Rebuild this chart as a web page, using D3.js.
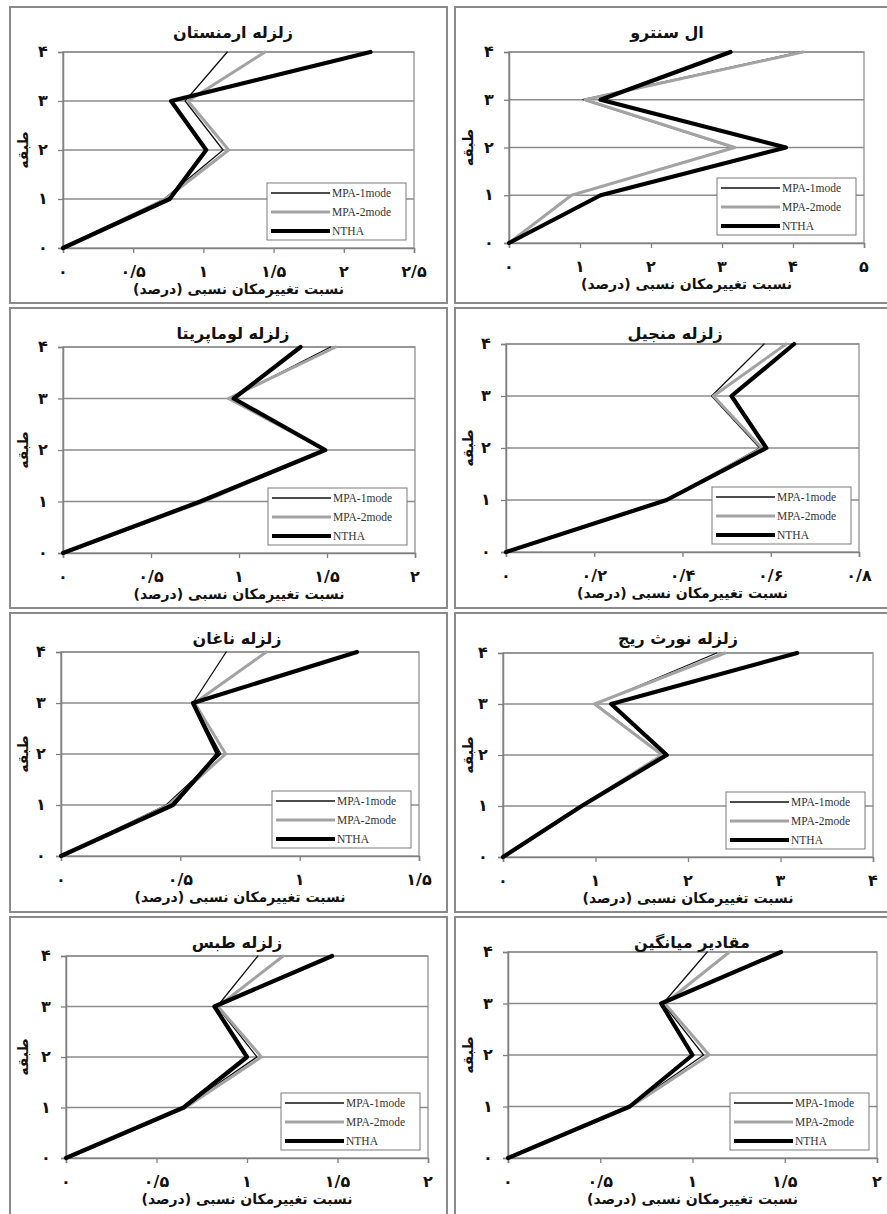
<!DOCTYPE html>
<html>
<head>
<meta charset="utf-8">
<script src="https://cdn.jsdelivr.net/npm/d3@7"></script>
<style>
  body { margin: 0; background: #fff; }
  svg text { font-family: "DejaVu Sans", sans-serif; }
  svg text.legend-label { font-family: "Liberation Serif", "DejaVu Serif", serif; }
</style>
</head>
<body>
<div id="chart"></div>
<script>
// chart data
const titles = ["زلزله ارمنستان", "ال سنترو", "زلزله لوماپریتا", "زلزله منجیل",
                "زلزله ناغان", "زلزله نورث ریج", "زلزله طبس", "مقادیر میانگین"];
const floors = [0, 1, 2, 3, 4];
const xMax = [2.5, 5, 2, 0.8, 1.5, 4, 2, 2];
const xStep = [0.5, 1, 0.5, 0.2, 0.5, 1, 0.5, 0.5];
const seriesNames = ["MPA-1mode", "MPA-2mode", "NTHA"];

const mpa1 = [
    [0, 0.72, 1.14, 0.87, 1.17],
    [0, 0.88, 3.15, 1.04, 4.10],
    [0, 0.78, 1.49, 0.95, 1.52],
    [0, 0.364, 0.575, 0.466, 0.585],
    [0, 0.44, 0.67, 0.553, 0.692],
    [0, 0.85, 1.73, 1.00, 2.31],
    [0, 0.65, 1.055, 0.835, 1.06],
    [0, 0.66, 1.06, 0.84, 1.08]
];
const mpa2 = [
    [0, 0.73, 1.18, 0.89, 1.44],
    [0, 0.88, 3.18, 1.07, 4.14],
    [0, 0.80, 1.49, 0.94, 1.55],
    [0, 0.364, 0.58, 0.47, 0.635],
    [0, 0.45, 0.69, 0.56, 0.86],
    [0, 0.85, 1.72, 0.99, 2.40],
    [0, 0.66, 1.08, 0.84, 1.20],
    [0, 0.665, 1.09, 0.85, 1.20]
];
const ntha = [
    [0, 0.76, 1.02, 0.77, 2.19],
    [0, 1.29, 3.90, 1.29, 3.12],
    [0, 0.78, 1.49, 0.97, 1.35],
    [0, 0.364, 0.59, 0.511, 0.653],
    [0, 0.469, 0.657, 0.553, 1.24],
    [0, 0.85, 1.77, 1.17, 3.18],
    [0, 0.65, 1.00, 0.82, 1.47],
    [0, 0.66, 1.00, 0.83, 1.48]
];

// panel placement (frame + plot box)
const layout = [
    {fx: 10,  fy: 7,   fw: 437, fh: 296, px: [63, 414],  py: [52, 248],   tx: 233},
    {fx: 455, fy: 7,   fw: 445, fh: 296, px: [509, 864], py: [52, 243],   tx: 667},
    {fx: 10,  fy: 308, fw: 437, fh: 300, px: [63, 415],  py: [347, 553],  tx: 233},
    {fx: 455, fy: 308, fw: 445, fh: 300, px: [506, 859], py: [344, 552],  tx: 675},
    {fx: 10,  fy: 613, fw: 437, fh: 299, px: [61, 419],  py: [652, 856],  tx: 237},
    {fx: 455, fy: 613, fw: 445, fh: 299, px: [503, 873], py: [653, 857],  tx: 678},
    {fx: 10,  fy: 917, fw: 437, fh: 310, px: [66, 428],  py: [956, 1158], tx: 237},
    {fx: 455, fy: 917, fw: 445, fh: 310, px: [508, 877], py: [952, 1158], tx: 692}
];

const styles = [
    {color: "#111", width: 1.3},
    {color: "#a3a3a3", width: 3},
    {color: "#000", width: 4.2}
];

const WIDTH = 887, HEIGHT = 1214;
const faDigits = "۰۱۲۳۴۵۶۷۸۹";
const toFa = v => String(+v.toFixed(2)).replace(".", "/").replace(/\d/g, d => faDigits[d]);

const svg = d3.select("#chart").append("svg")
    .attr("width", WIDTH)
    .attr("height", HEIGHT);

titles.forEach((title, i) => {
    const L = layout[i];
    const g = svg.append("g");

    // outer frame
    g.append("rect")
        .attr("x", L.fx).attr("y", L.fy)
        .attr("width", L.fw).attr("height", L.fh)
        .attr("fill", "#fff")
        .attr("stroke", "#8a8a8a")
        .attr("stroke-width", 2);

    const x = d3.scaleLinear().domain([0, xMax[i]]).range(L.px);
    const y = d3.scaleLinear().domain([0, 4]).range([L.py[1], L.py[0]]);
    const ticks = d3.range(0, xMax[i] + xStep[i] / 2, xStep[i]);

    // plot box + gridlines
    g.append("rect")
        .attr("x", L.px[0]).attr("y", L.py[0])
        .attr("width", L.px[1] - L.px[0]).attr("height", L.py[1] - L.py[0])
        .attr("fill", "none")
        .attr("stroke", "#a0a0a0")
        .attr("stroke-width", 1.5);

    g.selectAll(".grid")
        .data(floors.slice(1))
        .join("line")
        .attr("x1", L.px[0]).attr("x2", L.px[1])
        .attr("y1", d => y(d)).attr("y2", d => y(d))
        .attr("stroke", "#8c8c8c")
        .attr("stroke-width", 1.5);

    // axes
    const xAxis = d3.axisBottom(x).tickValues(ticks).tickSize(5).tickFormat("");
    const yAxis = d3.axisLeft(y).tickValues(floors).tickSize(5).tickFormat("");

    const gx = g.append("g")
        .attr("transform", `translate(0,${L.py[1]})`)
        .call(xAxis);
    const gy = g.append("g")
        .attr("transform", `translate(${L.px[0]},0)`)
        .call(yAxis);
    [gx, gy].forEach(a => {
        a.select(".domain").attr("stroke", "#808080").attr("stroke-width", 1.5);
        a.selectAll(".tick line").attr("stroke", "#808080").attr("stroke-width", 1.3);
    });

    // tick labels
    g.selectAll(".xlab")
        .data(ticks)
        .join("text")
        .attr("x", d => x(d))
        .attr("y", L.py[1] + 29)
        .attr("text-anchor", "middle")
        .attr("font-size", 16)
        .attr("font-weight", "bold")
        .attr("fill", "#111")
        .text(d => toFa(d));

    g.selectAll(".ylab")
        .data(floors)
        .join("text")
        .attr("x", L.px[0] - 20)
        .attr("y", d => y(d) + 5)
        .attr("text-anchor", "middle")
        .attr("font-size", 16)
        .attr("font-weight", "bold")
        .attr("fill", "#111")
        .text(d => toFa(d));

    // titles
    g.append("text")
        .attr("x", L.tx)
        .attr("y", L.fy + 31)
        .attr("text-anchor", "middle")
        .attr("font-size", 16)
        .attr("font-weight", "bold")
        .attr("fill", "#111")
        .text(title);

    g.append("text")
        .attr("x", (L.px[0] + L.px[1]) / 2)
        .attr("y", L.py[1] + 46)
        .attr("text-anchor", "middle")
        .attr("font-size", 14)
        .attr("font-weight", "bold")
        .attr("fill", "#111")
        .text("نسبت تغییرمکان نسبی  (درصد)");

    const yc = (L.py[0] + L.py[1]) / 2;
    g.append("text")
        .attr("transform", `translate(${L.fx + 18},${yc}) rotate(-90)`)
        .attr("text-anchor", "middle")
        .attr("font-size", 14)
        .attr("font-weight", "bold")
        .attr("fill", "#111")
        .text("طبقه");

    // series lines
    const line = d3.line()
        .x(d => x(d[0]))
        .y(d => y(d[1]));

    [mpa1[i], mpa2[i], ntha[i]].forEach((vals, s) => {
        g.append("path")
            .datum(vals.map((v, k) => [v, floors[k]]))
            .attr("d", line)
            .attr("fill", "none")
            .attr("stroke", styles[s].color)
            .attr("stroke-width", styles[s].width)
            .attr("stroke-linejoin", "round")
            .attr("stroke-linecap", "round");
    });

    // legend
    const lw = 139, lh = 57;
    const lx = L.px[1] - 8 - lw, ly = L.py[1] - 8 - lh;
    const lg = g.append("g").attr("transform", `translate(${lx},${ly})`);
    lg.append("rect")
        .attr("width", lw).attr("height", lh)
        .attr("fill", "#fff")
        .attr("stroke", "#7a7a7a")
        .attr("stroke-width", 1);
    seriesNames.forEach((name, s) => {
        const yy = 10 + s * 19;
        lg.append("line")
            .attr("x1", 4).attr("x2", 63)
            .attr("y1", yy).attr("y2", yy)
            .attr("stroke", styles[s].color)
            .attr("stroke-width", styles[s].width);
        lg.append("text")
            .attr("class", "legend-label")
            .attr("x", 65).attr("y", yy + 4)
            .attr("font-size", 11.5)
            .attr("fill", "#333")
            .text(name);
    });
});
</script>
</body>
</html>
